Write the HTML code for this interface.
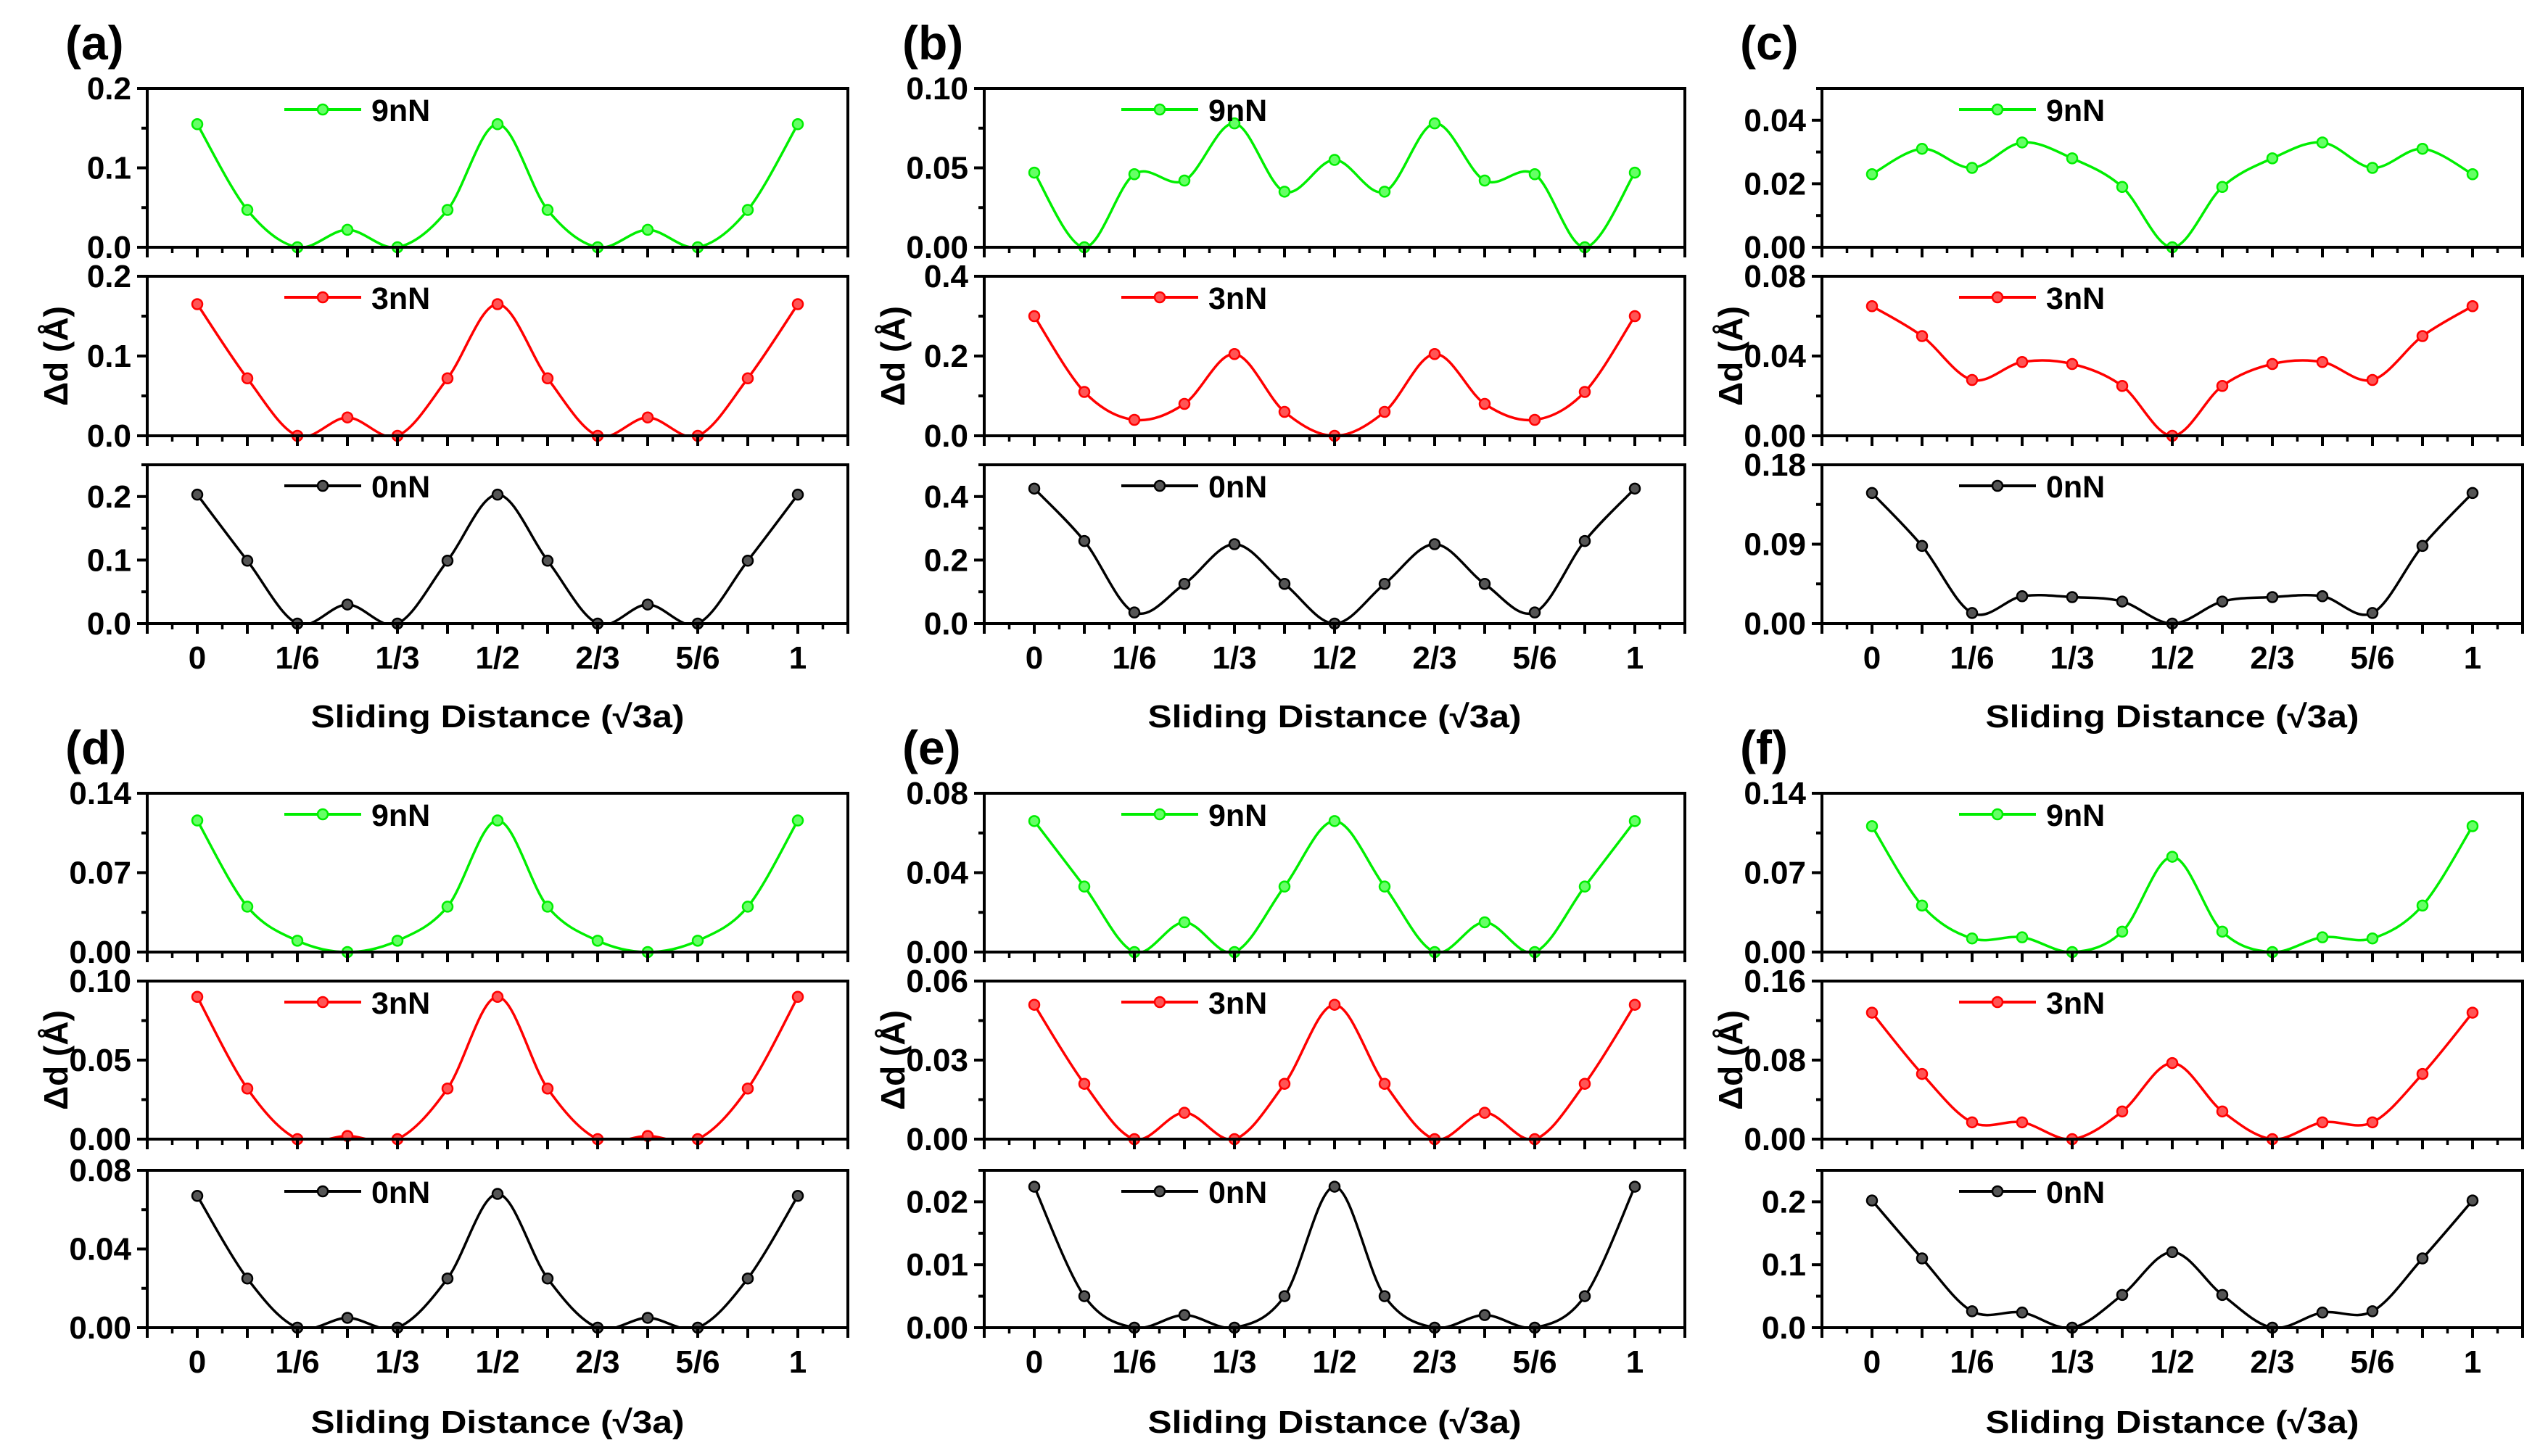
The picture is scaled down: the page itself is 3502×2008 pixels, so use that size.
<!DOCTYPE html>
<html><head><meta charset="utf-8"><style>
html,body{margin:0;padding:0;background:#fff;}
svg{display:block;}
text{font-family:"Liberation Sans",Arial,sans-serif;font-weight:bold;fill:#000;}
</style></head><body>
<svg id="fig" width="3502" height="2008" viewBox="0 0 3502 2008" xmlns="http://www.w3.org/2000/svg"></svg>
<script>
// ---- data ----
const xCategories = [0,1,2,3,4,5,6,7,8,9,10,11,12]; // in units of 1/12
const xTickLabels = ["0","1/6","1/3","1/2","2/3","5/6","1"];
const panelLabels = ["(a)","(b)","(c)","(d)","(e)","(f)"];
const seriesNames = ["9nN","3nN","0nN"];
const seriesColors = ["#00ee00","#ff0000","#000000"];
const a9=[.155,.047,0,.022,0,.047,.155,.047,0,.022,0,.047,.155];
const a3=[.165,.072,0,.023,0,.072,.165,.072,0,.023,0,.072,.165];
const a0=[.203,.099,0,.030,0,.099,.203,.099,0,.030,0,.099,.203];
const b9=[.047,0,.046,.042,.078,.035,.055,.035,.078,.042,.046,0,.047];
const b3=[.30,.11,.04,.08,.205,.06,0,.06,.205,.08,.04,.11,.30];
const b0=[.425,.26,.035,.125,.25,.125,0,.125,.25,.125,.035,.26,.425];
const c9=[.023,.031,.025,.033,.028,.019,0,.019,.028,.033,.025,.031,.023];
const c3=[.065,.05,.028,.037,.036,.025,0,.025,.036,.037,.028,.05,.065];
const c0=[.148,.088,.012,.031,.030,.025,0,.025,.030,.031,.012,.088,.148];
const d9=[.116,.040,.010,0,.010,.040,.116,.040,.010,0,.010,.040,.116];
const d3=[.090,.032,0,.002,0,.032,.090,.032,0,.002,0,.032,.090];
const d0=[.067,.025,0,.005,0,.025,.068,.025,0,.005,0,.025,.067];
const e9=[.066,.033,0,.015,0,.033,.066,.033,0,.015,0,.033,.066];
const e3=[.051,.021,0,.010,0,.021,.051,.021,0,.010,0,.021,.051];
const e0=[.0224,.005,0,.002,0,.005,.0224,.005,0,.002,0,.005,.0224];
const f9=[.111,.041,.012,.013,0,.018,.084,.018,0,.013,.012,.041,.111];
const f3=[.128,.066,.017,.017,0,.028,.077,.028,0,.017,.017,.066,.128];
const f0=[.202,.110,.026,.024,0,.052,.120,.052,0,.024,.026,.110,.202];
const panelSeries=[[a9,a3,a0],[b9,b3,b0],[c9,c3,c0],[d9,d3,d0],[e9,e3,e0],[f9,f3,f0]];
const yMax=[[0.2,0.2,0.25],[0.10,0.4,0.5],[0.05,0.08,0.18],[0.14,0.10,0.08],[0.08,0.06,0.025],[0.14,0.16,0.25]];
const yTickVals=[[[0,0.1,0.2],[0,0.1,0.2],[0,0.1,0.2]],[[0,0.05,0.10],[0,0.2,0.4],[0,0.2,0.4]],[[0,0.02,0.04],[0,0.04,0.08],[0,0.09,0.18]],[[0,0.07,0.14],[0,0.05,0.10],[0,0.04,0.08]],[[0,0.04,0.08],[0,0.03,0.06],[0,0.01,0.02]],[[0,0.07,0.14],[0,0.08,0.16],[0,0.1,0.2]]];
const yTickText=[[["0.0","0.1","0.2"],["0.0","0.1","0.2"],["0.0","0.1","0.2"]],[["0.00","0.05","0.10"],["0.0","0.2","0.4"],["0.0","0.2","0.4"]],[["0.00","0.02","0.04"],["0.00","0.04","0.08"],["0.00","0.09","0.18"]],[["0.00","0.07","0.14"],["0.00","0.05","0.10"],["0.00","0.04","0.08"]],[["0.00","0.04","0.08"],["0.00","0.03","0.06"],["0.00","0.01","0.02"]],[["0.00","0.07","0.14"],["0.00","0.08","0.16"],["0.0","0.1","0.2"]]];

// ---- layout ----
const NS="http://www.w3.org/2000/svg";
const svg=document.getElementById('fig');
const colLeft=[203,1357,2512], W=966;
const rowTops=[[122,381,641],[1094,1353,1614]];
const rowBots=[[341,601,860],[1313,1571,1831]];
function mk(tag,attrs,parent){const e=document.createElementNS(NS,tag);for(const k in attrs)e.setAttribute(k,attrs[k]);(parent||svg).appendChild(e);return e;}
function spline(pts){let d=`M${pts[0][0]},${pts[0][1]}`;for(let i=0;i<pts.length-1;i++){const p0=pts[Math.max(0,i-1)],p1=pts[i],p2=pts[i+1],p3=pts[Math.min(pts.length-1,i+2)];const c1x=p1[0]+(p2[0]-p0[0])/6,c1y=p1[1]+(p2[1]-p0[1])/6,c2x=p2[0]-(p3[0]-p1[0])/6,c2y=p2[1]-(p3[1]-p1[1])/6;d+=` C${c1x},${c1y} ${c2x},${c2y} ${p2[0]},${p2[1]}`;}return d;}

const defs=mk('defs',{});
for(let p=0;p<6;p++){
  const col=p%3,row=Math.floor(p/3);
  const L=colLeft[col],R=L+W;
  const g=mk('g',{});
  
  
  const xs=v=>L+W*(v/12+1/12)/(14/12);
  const lab=mk('text',{x:L-113,y:(row?rowTops[row][0]:122)-40,'font-size':66},g);
  lab.textContent=panelLabels[p];
  
  
  for(let s=0;s<3;s++){
    const T=rowTops[row][s],B=rowBots[row][s],ym=yMax[p][s];
    const ys=v=>B-(B-T)*v/ym;
    const sg=mk('g',{},g);
    
    
    const cid='clip'+p+'_'+s;
    const cp=mk('clipPath',{id:cid},defs);mk('rect',{x:L,y:T,width:W,height:B-T},cp);
    // data line
    const pts=xCategories.map((c,i)=>[xs(c),ys(panelSeries[p][s][i])]);
    const line=mk('path',{d:spline(pts),fill:'none',stroke:seriesColors[s],'stroke-width':3.5,'clip-path':`url(#${cid})`},sg);
    
    
    pts.forEach(pt=>{const m=mk('circle',{cx:pt[0],cy:pt[1],r:7,fill:s==2?'#555':(s==1?'#ff5555':'#66ff66'),stroke:seriesColors[s],'stroke-width':2.5},sg);
      
      });
    // frame
    const fr=mk('rect',{x:L,y:T,width:W,height:B-T,fill:'none',stroke:'#000','stroke-width':4},sg);
    
    
    // x ticks
    for(let k=-1;k<=13;k++){
      const x=xs(k);mk('line',{x1:x,x2:x,y1:B,y2:B+14,stroke:'#000','stroke-width':4},sg);
      const xm=xs(k+0.5);if(k<13)mk('line',{x1:xm,x2:xm,y1:B,y2:B+8,stroke:'#000','stroke-width':3.5},sg);
    }
    // y ticks
    const tv=yTickVals[p][s],st=tv[1]-tv[0];
    for(let v=0;v<=ym+1e-9;v+=st/2){
      const y=ys(v),maj=Math.abs((v/st)-Math.round(v/st))<1e-6;
      mk('line',{x1:L-(maj?14:8),x2:L,y1:y,y2:y,stroke:'#000','stroke-width':4},sg);
    }
    tv.forEach((v,i)=>{const t=mk('text',{x:L-22,y:ys(v)+15,'font-size':44,'text-anchor':'end'},sg);t.textContent=yTickText[p][s][i];
      
      });
    // legend
    const lg=mk('g',{},sg);
    
    
    mk('line',{x1:L+189,x2:L+295,y1:T+29,y2:T+29,stroke:seriesColors[s],'stroke-width':4},lg);
    mk('circle',{cx:L+242,cy:T+29,r:7,fill:s==2?'#555':(s==1?'#ff5555':'#66ff66'),stroke:seriesColors[s],'stroke-width':2.5},lg);
    const lt=mk('text',{x:L+309,y:T+45,'font-size':43},lg);lt.textContent=seriesNames[s];
    if(s==2){
      xTickLabels.forEach((t,i)=>{const e=mk('text',{x:xs(i*2),y:B+62,'font-size':44,'text-anchor':'middle'},sg);e.textContent=t;
        
        });
    }
  }
  const xt=mk('text',{x:(L+R)/2,y:row?1976:1003,'font-size':44,'text-anchor':'middle',textLength:515,lengthAdjust:'spacingAndGlyphs'},g);
  xt.textContent='Sliding Distance (√3a)';
  
  
  const cy=(rowTops[row][1]+rowBots[row][1])/2;
  const yt=mk('text',{x:0,y:0,'font-size':46,'text-anchor':'middle',transform:`translate(${L-110},${cy}) rotate(-90)`},g);
  yt.textContent='Δd (Å)';
  
  
}
</script>
</body></html>
